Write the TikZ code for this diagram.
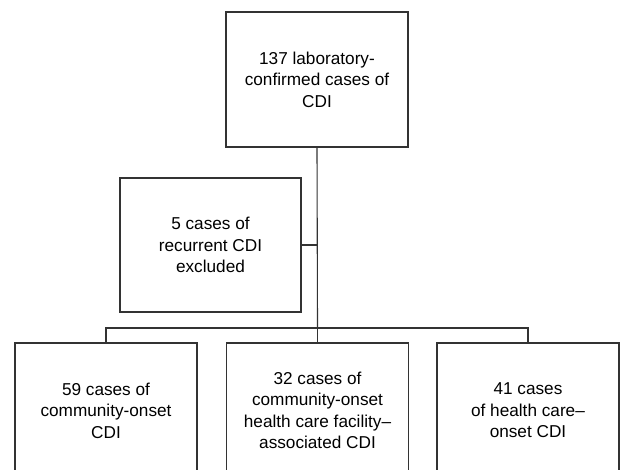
\documentclass[tikz,border=0pt]{standalone}
\usepackage{fontspec}
\setmainfont{Liberation Sans}
\begin{document}
\begin{tikzpicture}[x=1pt,y=1pt,
  box/.style={draw=black!80, line width=1.1pt, minimum width=182pt, minimum height=135pt,
    align=center, inner sep=2pt, font=\fontsize{17.2}{21.5}\selectfont},
  link/.style={draw=black!80, line width=1.1pt}]
\useasboundingbox (0,0) rectangle (623,470);
\clip (0,0) rectangle (623,470);
\node[box] (top) at (317,390.5) {137 laboratory-\\confirmed cases of\\CDI};
\node[box, minimum width=181pt, minimum height=134pt] (excl) at (210.5,225) {5 cases of\\recurrent CDI\\excluded};
\node[box] (b1) at (106,59.5) {59 cases of\\community-onset\\CDI};
\node[box] (b2) at (317.5,59.5) {32 cases of\\community-onset\\health care facility–\\associated CDI};
\node[box] (b3) at (528,59.5) {41 cases\\of health care–\\onset CDI};
\coordinate (bar) at (317.5,142);
\draw[link] (top.south) -- (bar);
\draw[link] (excl.east) -- (excl.east -| top.south);
\draw[link] (b1.north) |- (bar) -| (b3.north);
\draw[link] (bar) -- (b2.north);
\end{tikzpicture}
\end{document}
